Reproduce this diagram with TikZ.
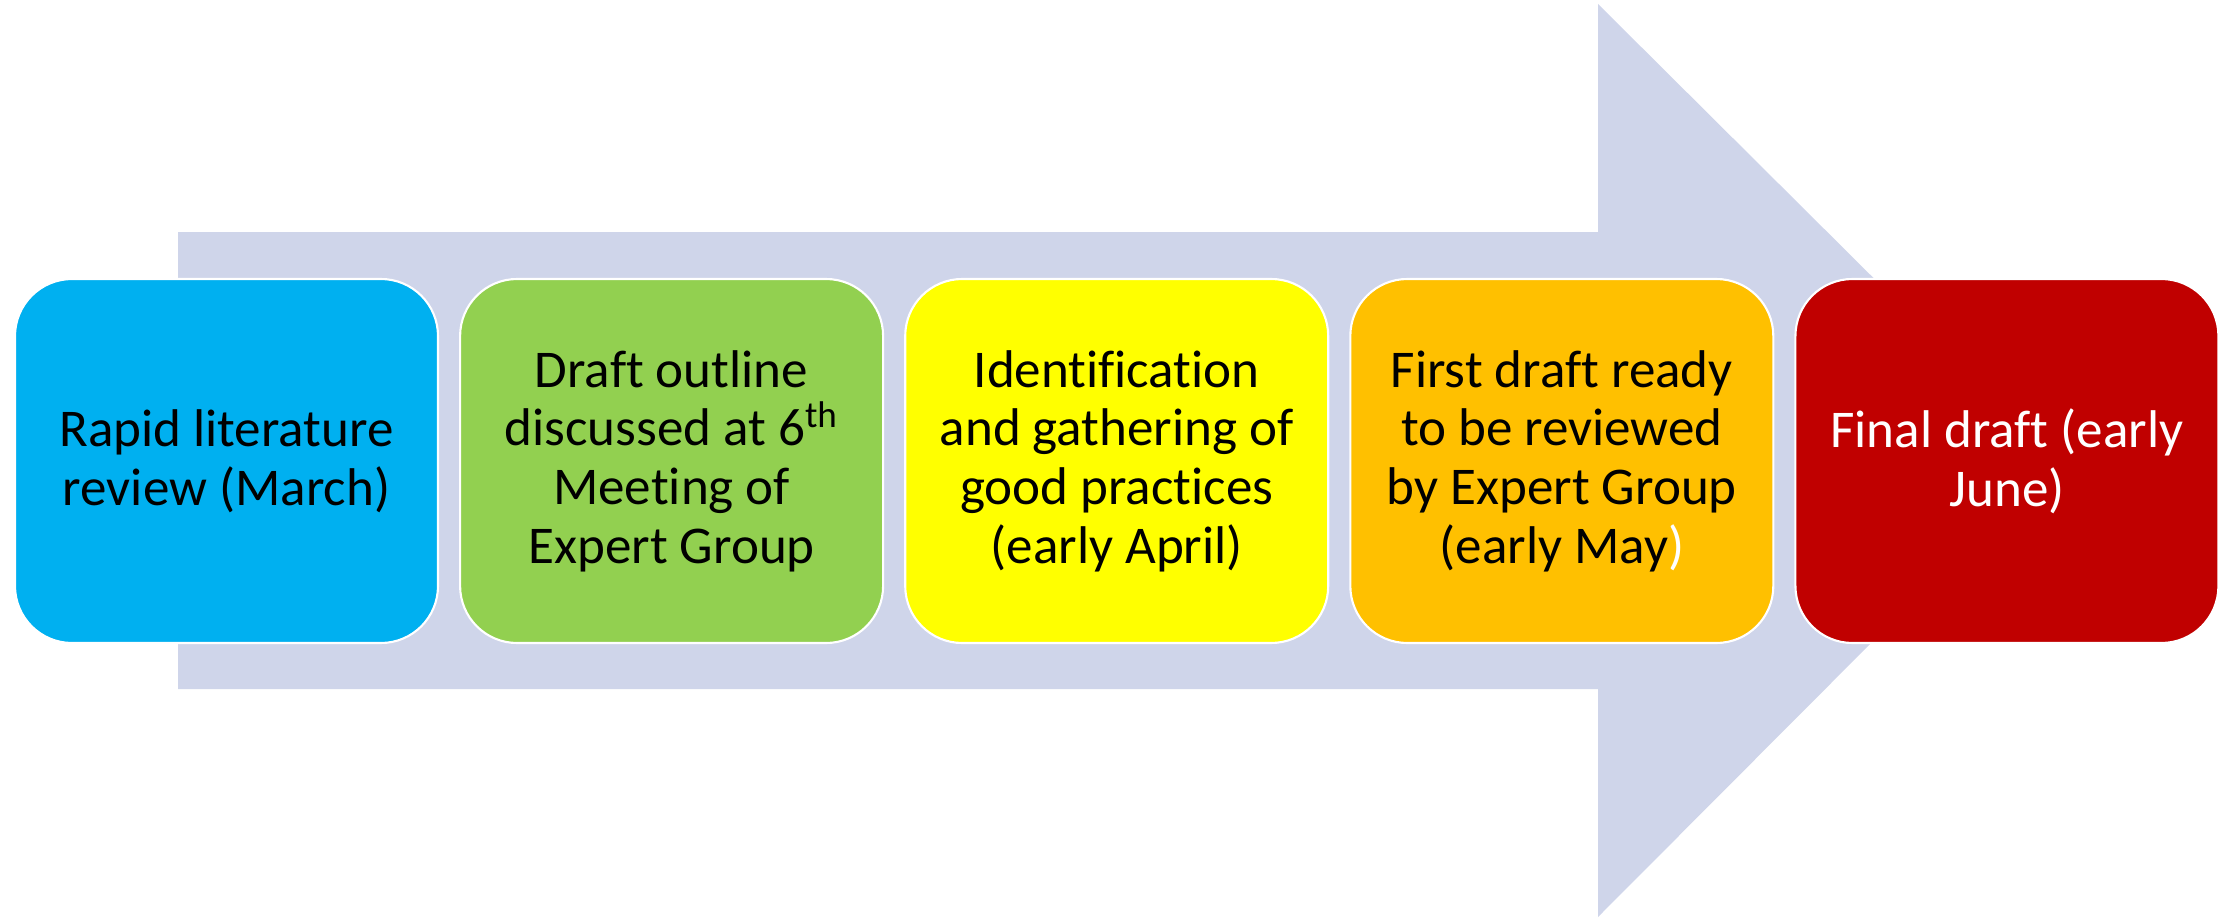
\documentclass[tikz,border=0pt]{standalone}
\usepackage{fontspec}
\setmainfont[Ligatures=NoCommon]{Carlito}
\usepackage{xcolor}
\usetikzlibrary{positioning}
\definecolor{pfeil}{HTML}{CFD5EA}
\definecolor{blau}{HTML}{00B0F0}
\definecolor{gruen}{HTML}{92D050}
\definecolor{gelb}{HTML}{FFFF00}
\definecolor{orange}{HTML}{FFC000}
\definecolor{dunkelrot}{HTML}{C00000}
\tikzset{schritt/.style={draw=white, line width=0.6pt, rounded corners=0.57cm,
    minimum width=4.23cm, minimum height=3.64cm, inner sep=0pt, align=center,
    font=\fontsize{15.1}{16.7}\selectfont}}

\begin{document}
\begin{tikzpicture}[node distance=0.2cm]
    \useasboundingbox (0,0) rectangle (22.33,9.17);

    % Pfeil.
    \fill[pfeil] (1.78,2.28) -- (15.98,2.28) -- (15.98,0) -- (20.55,4.585)
        -- (15.98,9.13) -- (15.98,6.85) -- (1.78,6.85) -- cycle;

    % Schritte.
    \node[schritt, fill=blau] (s1) at (2.265,4.56) {Rapid literature\\review (March)};
    \node[schritt, fill=gruen, right=of s1] (s2) {Draft outline\\discussed at 6\textsuperscript{th}\\Meeting of\\Expert Group};
    \node[schritt, fill=gelb, right=of s2] (s3) {Identification\\and gathering of\\good practices\\(early April)};
    \node[schritt, fill=orange, right=of s3] (s4) {First draft ready\\to be reviewed\\by Expert Group\\(early May\textcolor{white}{)}};
    \node[schritt, fill=dunkelrot, text=white, right=of s4] (s5) {Final draft (early\\June)};
\end{tikzpicture}
\end{document}
